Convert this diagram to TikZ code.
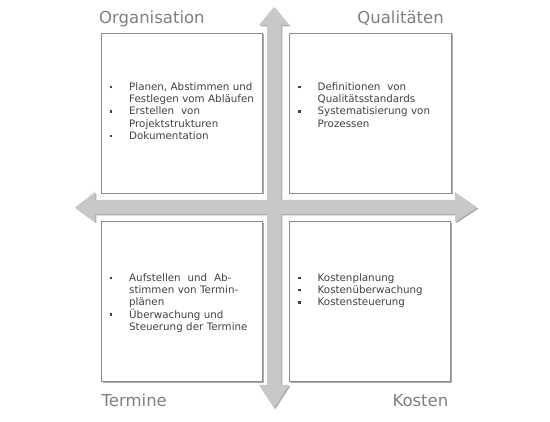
\documentclass[tikz,border=0pt]{standalone}
\usepackage{fontspec}
\setmainfont{DejaVu Sans}
\definecolor{arrowfill}{HTML}{C8C8C8}
\definecolor{arrowshade}{HTML}{AEAEAE}
\definecolor{boxline}{HTML}{8C8C8C}
\definecolor{boxshade}{HTML}{ABABAB}
\definecolor{titlegray}{HTML}{7F7F7F}
\definecolor{itemgray}{HTML}{454040}
\newcommand{\bul}{\makebox[19.5pt][l]{\rule[2.3pt]{2.3pt}{2.3pt}}}
\newcommand{\ind}{\hspace*{19.5pt}}
\begin{document}
\begin{tikzpicture}[x=1pt,y=-1pt,
  quadbox/.style={draw=boxline,line width=0.6pt,fill=white,minimum width=160.5pt,minimum height=160pt,inner sep=0pt},
  itemtext/.style={anchor=base west,text width=150pt,align=left,inner sep=0pt,text=itemgray,font=\fontsize{10.3}{12.2}\selectfont},
  titletext/.style={inner sep=0pt,text=titlegray,font=\fontsize{16.5}{18}\selectfont}]
\useasboundingbox (0,0) rectangle (550,422);
% arrow shadows
\fill[arrowshade] (275.3,8.3) -- (290.3,26.3) -- (282.3,26.3) -- (282.3,386.3) -- (290.3,386.3) -- (275.3,409.3) -- (260.3,386.3) -- (268.3,386.3) -- (268.3,26.3) -- (260.3,26.3) -- cycle;
\fill[arrowshade] (76.3,208.8) -- (96.3,193.3) -- (96.3,201.3) -- (456.3,201.3) -- (456.3,193.3) -- (478.3,208.8) -- (456.3,223.3) -- (456.3,215.3) -- (96.3,215.3) -- (96.3,223.3) -- cycle;
% arrows
\fill[arrowfill] (274,7) -- (289,25) -- (281,25) -- (281,385) -- (289,385) -- (274,408) -- (259,385) -- (267,385) -- (267,25) -- (259,25) -- cycle;
\fill[arrowfill] (75,207.5) -- (95,192) -- (95,200) -- (455,200) -- (455,192) -- (477,207.5) -- (455,222) -- (455,214) -- (95,214) -- (95,222) -- cycle;
% box shadows
\fill[boxshade] (103,34.5) rectangle (263.5,194.5);
\fill[boxshade] (291,34.5) rectangle (453,194.5);
\fill[boxshade] (103,223.2) rectangle (263.5,383.2);
\fill[boxshade] (291,223.2) rectangle (452,383.2);
% boxes
\node[quadbox] (org) at (181.75,113) {};
\node[quadbox,minimum width=162pt] (qual) at (370.5,113) {};
\node[quadbox] (term) at (181.75,301.7) {};
\node[quadbox,minimum width=161pt] (kost) at (370,301.7) {};
% items
\node[itemtext] (orgitems) at (109.5,90.5) {\bul Planen, Abstimmen und\\\ind Festlegen vom Abläufen\\\bul Erstellen\ \ von\\\ind Projektstrukturen\\\bul Dokumentation};
\node[itemtext] (qualitems) at (298,90.5) {\bul Definitionen\ \ von\\\ind Qualitätsstandards\\\bul Systematisierung von\\\ind Prozessen};
\node[itemtext] (termitems) at (109.5,281.5) {\bul Aufstellen\ \ und\ \ Ab-\\\ind stimmen von Termin-\\\ind plänen\\\bul Überwachung und\\\ind Steuerung der Termine};
\node[itemtext] (kostitems) at (298,281.5) {\bul Kostenplanung\\\bul Kostenüberwachung\\\bul Kostensteuerung};
% titles
\node[titletext,anchor=base west] (torg) at (99,24) {Organisation};
\node[titletext,anchor=base east] (tqual) at (444,24) {Qualitäten};
\node[titletext,anchor=base west] (tterm) at (101.5,407) {Termine};
\node[titletext,anchor=base east] (tkost) at (448.5,407) {Kosten};
\end{tikzpicture}
\end{document}
